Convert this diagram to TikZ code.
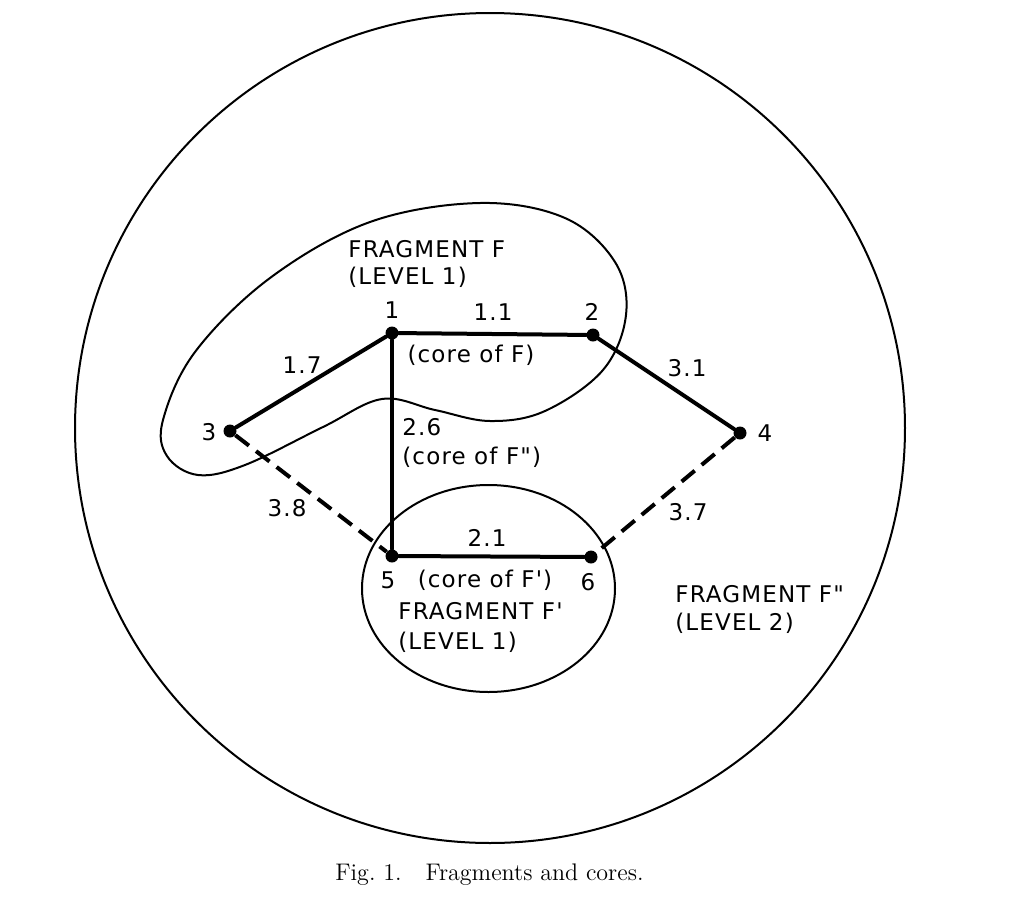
\documentclass[tikz,border=0pt]{standalone}
\usepackage{fontspec}
\newfontfamily\lettering{DejaVu Sans}[LetterSpace=5]
\usetikzlibrary{positioning}

\tikzset{
  dot/.style={circle, fill=black, inner sep=0pt, minimum size=6.5pt},
  tree/.style={line width=2pt},
  outgoing/.style={line width=2pt, line cap=butt, dash pattern=on 8.5pt off 4.5pt},
  region/.style={line width=1pt},
  lab/.style={font=\lettering\fontsize{11.5}{13.5}\selectfont, inner sep=0pt},
}

\begin{document}
\begin{tikzpicture}[line cap=round,line join=round, x=0.5pt,y=-0.5pt]
\useasboundingbox (0,0) rectangle (1025,911);
% fragments
\draw [region] (490,428) circle [radius=207.5pt];
\draw [region] (488.5,588.5) ellipse [x radius=63.25pt, y radius=51.75pt];
\draw [region] plot [smooth cycle, tension=0.6] coordinates {(480,203) (565,218) (615,262) (626,315) (603,370) (545,411) (490,421) (435,410) (382,399) (323,427) (245,465) (198,475) (167,456) (163,420) (195,352) (270,278) (370,222)};
% nodes
\node [dot] (n1) at (392,333) {};
\node [dot] (n2) at (593,335) {};
\node [dot] (n3) at (230,431) {};
\node [dot] (n4) at (740,433) {};
\node [dot] (n5) at (392,556) {};
\node [dot] (n6) at (591,557) {};
% edges
\draw [tree] (n1) -- (n2);
\draw [tree] (n1) -- (n3);
\draw [tree] (n1) -- (n5);
\draw [tree] (n2) -- (n4);
\draw [tree] (n5) -- (n6);
\draw [outgoing] (n3) -- (n5);
\draw [outgoing] (n4) -- (n6);
% node numbers
\node [lab] (num1) at (392,310) {1};
\node [lab] (num2) at (592,312) {2};
\node [lab] (num3) at (209,432) {3};
\node [lab] (num4) at (765,433) {4};
\node [lab] (num5) at (388,580) {5};
\node [lab] (num6) at (588,582) {6};
% weights
\node [lab] (w12) at (493,312) {1.1};
\node [lab] (w13) at (302,365) {1.7};
\node [lab] (w24) at (687,368) {3.1};
\node [lab] (w35) at (287,508) {3.8};
\node [lab] (w46) at (688,512) {3.7};
\node [lab] (w56) at (487,538) {2.1};
\node [lab, align=left, anchor=north west] (w15) at (402,418) {2.6\\[1pt](core of F")};
% cores and fragments
\node [lab] (coreF) at (471,355) {(core of F)};
\node [lab] (coreFp) at (485,580) {(core of F')};
\node [lab, align=left, anchor=north west] (fragF) at (348,240) {FRAGMENT F\\(LEVEL 1)};
\node [lab, align=left, anchor=north west] (fragFp) at (398,602) {FRAGMENT F'\\[1.5pt](LEVEL 1)};
\node [lab, align=left, anchor=north west] (fragFpp) at (675,585) {FRAGMENT F"\\[0.5pt](LEVEL 2)};
% caption
\node [font=\fontsize{12}{14}\selectfont, anchor=base] (caption) at (489.5,880) {Fig.~1.\quad Fragments and cores.};
\end{tikzpicture}
\end{document}
